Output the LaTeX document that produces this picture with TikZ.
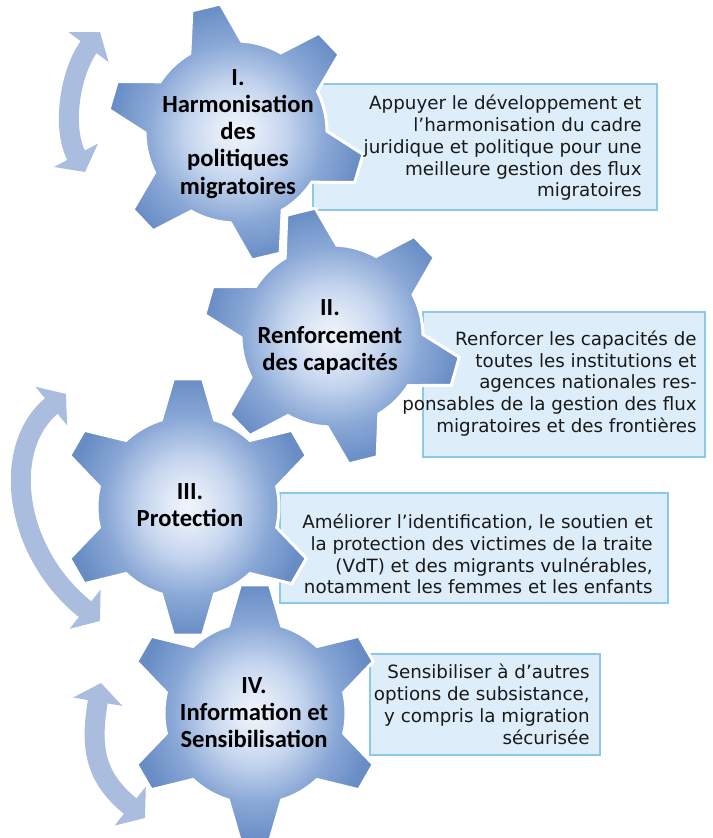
\documentclass[tikz,border=0pt]{standalone}
\usepackage{fontspec}
\setmainfont{DejaVu Sans}
\newfontfamily\cogfont{Carlito}
\usetikzlibrary{arrows.meta}

\definecolor{boxfill}{RGB}{221,238,250}
\definecolor{boxline}{RGB}{140,200,236}
\definecolor{swingblue}{RGB}{170,189,222}
\definecolor{cogcenter}{RGB}{240,244,251}
\definecolor{coginner}{RGB}{226,234,247}
\definecolor{cogmid}{RGB}{198,214,239}
\definecolor{cogedge}{RGB}{138,168,214}
\definecolor{cogtip}{RGB}{104,141,197}
\definecolor{textgrey}{RGB}{25,25,25}

\pgfdeclareradialshading{cogshading}{\pgfpoint{0bp}{0bp}}{color(0bp)=(cogcenter); color(4bp)=(coginner); color(9.5bp)=(cogmid); color(17.5bp)=(cogedge); color(25bp)=(cogtip); color(50bp)=(cogtip)}

\tikzset{
	cogshape/.style={draw=white, line width=0.06cm, shade, shading=cogshading},
	cog/.pic={
		\path[cogshape] (-17:1.82)
			\foreach \a in {0,60,...,300} {
				-- (\a-6.5:2.58) -- (\a+6.5:2.58) -- (\a+17:1.82)
				arc[start angle=\a+17, end angle=\a+43, radius=1.82]
			} -- cycle;
	},
	cogtext/.style={font=\cogfont\bfseries\fontsize{14}{15.4}\selectfont, align=center, text=black},
	descbox/.style={draw=boxline, line width=0.7pt, fill=boxfill, inner sep=0pt},
	desctext/.style={font=\fontsize{10.4}{12.4}\selectfont, align=right, text=textgrey, anchor=east, inner sep=0pt},
	swing/.style={draw=swingblue, line width=0.4cm, {Triangle[width=0.98cm,length=0.38cm]}-{Triangle[width=0.98cm,length=0.38cm]}}
}

\begin{document}
\begin{tikzpicture}
		\useasboundingbox (0,0) rectangle (14.26,16.76);
		% curved arrows on the left
		\coordinate (up1) at (2.00,16.12);
		\coordinate (down1) at (1.70,13.32);
		\draw[swing] (up1) .. controls (1.40,15.32) and (1.23,14.20) .. (down1);
		\coordinate (up2) at (1.32,8.88);
		\coordinate (down2) at (2.00,4.34);
		\draw[swing] (up2) .. controls (0,7.80) and (0.28,5.70) .. (down2);
		\coordinate (up3) at (2.02,3.10);
		\coordinate (down3) at (2.90,0.40);
		\draw[swing] (up3) .. controls (1.80,1.82) and (1.89,1.21) .. (down3);
		
		% I
		\node[descbox, minimum width=6.88cm, minimum height=2.52cm] (box1) at (9.70,13.82) {};
		\pic[rotate=-16.5] at (4.72,14.12) {cog};
		\node[cogtext] (harmon) at (4.76,14.08) {I.\\Harmonisation\\des\\politiques\\migratoires};
		\node[desctext] (desc1) at (12.84,13.80) {Appuyer le développement et\\l’harmonisation du cadre\\juridique et politique pour une\\meilleure gestion des flux\\migratoires};
		
		% II
		\node[descbox, minimum width=5.64cm, minimum height=2.90cm] (box2) at (11.28,9.07) {};
		\pic[rotate=-16] at (6.64,10.04) {cog};
		\node[cogtext] (renfo) at (6.60,10.02) {II.\\Renforcement\\des capacités};
		\node[desctext] (desc2) at (13.94,9.09) {Renforcer les capacités de\\toutes les institutions et\\agences nationales res-\\ponsables de la gestion des flux\\migratoires et des frontières};
		
		% III
		\node[descbox, minimum width=7.76cm, minimum height=2.20cm] (box3) at (9.48,5.80) {};
		\pic[rotate=30] at (3.76,6.62) {cog};
		\node[cogtext] (protec) at (3.80,6.66) {III.\\Protection};
		\node[desctext] (desc3) at (13.06,5.68) {Améliorer l’identification, le soutien et\\la protection des victimes de la traite\\(VdT) et des migrants vulnérables,\\notamment les femmes et les enfants};
		
		% IV
		\node[descbox, minimum width=4.60cm, minimum height=2.02cm] (box4) at (9.70,2.67) {};
		\pic[rotate=30] at (5.10,2.50) {cog};
		\node[cogtext] (infos) at (5.08,2.50) {IV.\\Information et\\Sensibilisation};
		\node[desctext] (desc4) at (11.80,2.67) {Sensibiliser à d’autres\\options de subsistance,\\y compris la migration\\sécurisée};
\end{tikzpicture}
\end{document}
